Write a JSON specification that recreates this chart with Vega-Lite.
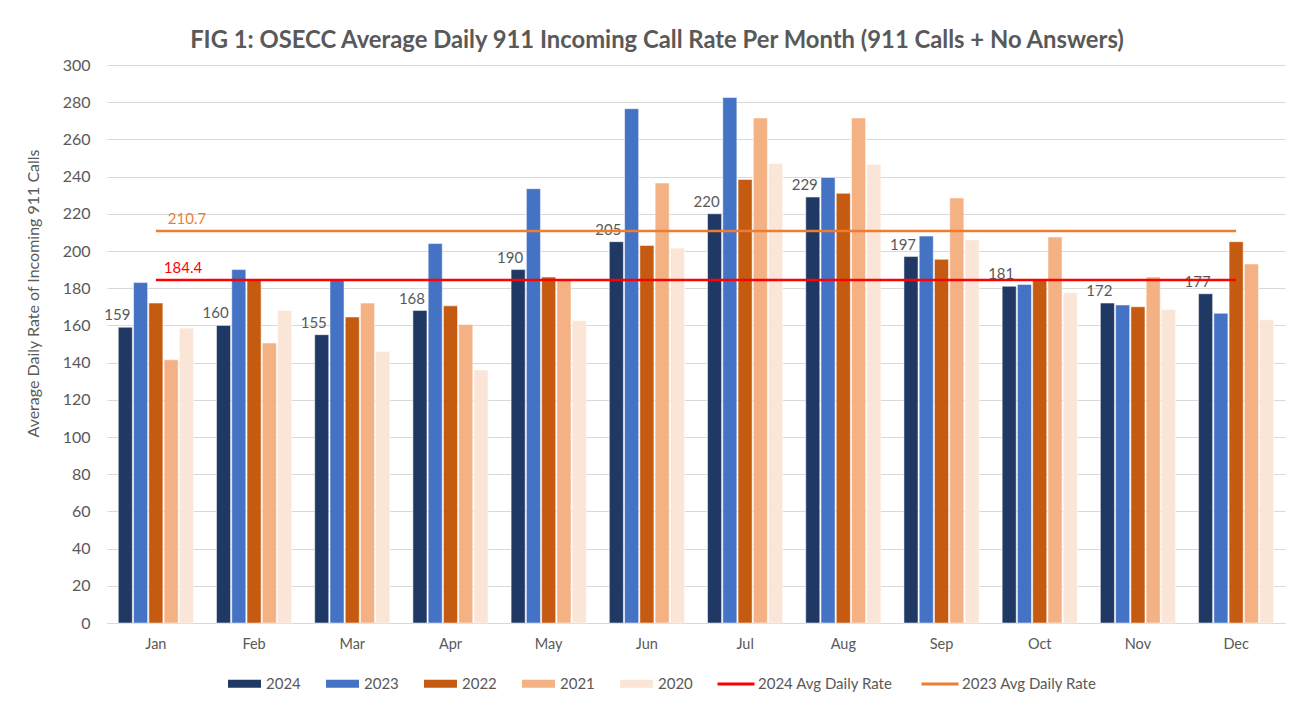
{
  "$schema": "https://vega.github.io/schema/vega-lite/v6.json",
  "width": 1178,
  "height": 558,
  "autosize": {"type": "none"},
  "padding": {"left": 107, "top": 65, "right": 22, "bottom": 88},
  "background": "white",
  "title": {
    "text": "FIG 1: OSECC Average Daily 911 Incoming Call Rate Per Month (911 Calls + No Answers)",
    "font": "Lato",
    "fontSize": 23.8,
    "fontWeight": "bold",
    "color": "#595959",
    "anchor": "middle",
    "dx": -39,
    "offset": 4
  },
  "datasets": {
    "bars": [
      {"month": "Jan", "series": "2024", "value": 159}, {"month": "Jan", "series": "2023", "value": 183}, {"month": "Jan", "series": "2022", "value": 172}, {"month": "Jan", "series": "2021", "value": 141.5}, {"month": "Jan", "series": "2020", "value": 158.5},
      {"month": "Feb", "series": "2024", "value": 160}, {"month": "Feb", "series": "2023", "value": 190}, {"month": "Feb", "series": "2022", "value": 185}, {"month": "Feb", "series": "2021", "value": 150.5}, {"month": "Feb", "series": "2020", "value": 168},
      {"month": "Mar", "series": "2024", "value": 155}, {"month": "Mar", "series": "2023", "value": 185}, {"month": "Mar", "series": "2022", "value": 164.5}, {"month": "Mar", "series": "2021", "value": 172}, {"month": "Mar", "series": "2020", "value": 146},
      {"month": "Apr", "series": "2024", "value": 168}, {"month": "Apr", "series": "2023", "value": 204}, {"month": "Apr", "series": "2022", "value": 170.5}, {"month": "Apr", "series": "2021", "value": 160.5}, {"month": "Apr", "series": "2020", "value": 136},
      {"month": "May", "series": "2024", "value": 190}, {"month": "May", "series": "2023", "value": 233.5}, {"month": "May", "series": "2022", "value": 186}, {"month": "May", "series": "2021", "value": 184.5}, {"month": "May", "series": "2020", "value": 162.5},
      {"month": "Jun", "series": "2024", "value": 205}, {"month": "Jun", "series": "2023", "value": 276.5}, {"month": "Jun", "series": "2022", "value": 203}, {"month": "Jun", "series": "2021", "value": 236.5}, {"month": "Jun", "series": "2020", "value": 201.5},
      {"month": "Jul", "series": "2024", "value": 220}, {"month": "Jul", "series": "2023", "value": 282.5}, {"month": "Jul", "series": "2022", "value": 238.5}, {"month": "Jul", "series": "2021", "value": 271.5}, {"month": "Jul", "series": "2020", "value": 247},
      {"month": "Aug", "series": "2024", "value": 229}, {"month": "Aug", "series": "2023", "value": 239.5}, {"month": "Aug", "series": "2022", "value": 231}, {"month": "Aug", "series": "2021", "value": 271.5}, {"month": "Aug", "series": "2020", "value": 246.5},
      {"month": "Sep", "series": "2024", "value": 197}, {"month": "Sep", "series": "2023", "value": 208}, {"month": "Sep", "series": "2022", "value": 195.5}, {"month": "Sep", "series": "2021", "value": 228.5}, {"month": "Sep", "series": "2020", "value": 206},
      {"month": "Oct", "series": "2024", "value": 181}, {"month": "Oct", "series": "2023", "value": 182}, {"month": "Oct", "series": "2022", "value": 185}, {"month": "Oct", "series": "2021", "value": 207.5}, {"month": "Oct", "series": "2020", "value": 177.5},
      {"month": "Nov", "series": "2024", "value": 172}, {"month": "Nov", "series": "2023", "value": 171}, {"month": "Nov", "series": "2022", "value": 170}, {"month": "Nov", "series": "2021", "value": 186}, {"month": "Nov", "series": "2020", "value": 168.5},
      {"month": "Dec", "series": "2024", "value": 177}, {"month": "Dec", "series": "2023", "value": 166.5}, {"month": "Dec", "series": "2022", "value": 205}, {"month": "Dec", "series": "2021", "value": 193}, {"month": "Dec", "series": "2020", "value": 163}
    ],
    "avg": [
      {"month": "Jan", "series": "2024 Avg Daily Rate", "value": 184.4},
      {"month": "Dec", "series": "2024 Avg Daily Rate", "value": 184.4},
      {"month": "Jan", "series": "2023 Avg Daily Rate", "value": 210.7},
      {"month": "Dec", "series": "2023 Avg Daily Rate", "value": 210.7}
    ]
  },
  "encoding": {
    "x": {
      "field": "month",
      "type": "nominal",
      "sort": ["Jan", "Feb", "Mar", "Apr", "May", "Jun", "Jul", "Aug", "Sep", "Oct", "Nov", "Dec"],
      "scale": {"paddingInner": 0.235, "paddingOuter": 0.115},
      "axis": {
        "title": null,
        "labelAngle": 0,
        "labelFont": "Lato",
        "labelFontSize": 14.5,
        "labelColor": "#595959",
        "labelPadding": 14,
        "ticks": false,
        "domainColor": "#D9D9D9",
        "grid": false
      }
    },
    "y": {
      "field": "value",
      "type": "quantitative",
      "scale": {"domain": [0, 300], "nice": false},
      "axis": {
        "title": "Average Daily Rate of Incoming 911 Calls",
        "titleFont": "Lato",
        "titleFontSize": 16,
        "titleFontWeight": "normal",
        "titleColor": "#595959",
        "titlePadding": 21,
        "titleY": 228,
        "values": [0, 20, 40, 60, 80, 100, 120, 140, 160, 180, 200, 220, 240, 260, 280, 300],
        "labelFont": "Lato",
        "labelFontSize": 16,
        "labelColor": "#595959",
        "labelPadding": 17,
        "ticks": false,
        "domain": false,
        "gridColor": "#D9D9D9",
        "gridWidth": 1
      }
    }
  },
  "layer": [
    {
      "data": {"name": "bars"},
      "mark": {"type": "bar", "stroke": "white", "strokeWidth": 0.5},
      "encoding": {
        "xOffset": {"field": "series", "type": "nominal", "sort": ["2024", "2023", "2022", "2021", "2020"], "scale": {"paddingInner": 0.08}},
        "color": {
          "field": "series",
          "type": "nominal",
          "scale": {
            "domain": ["2024", "2023", "2022", "2021", "2020"],
            "range": ["#203864", "#4472C4", "#C55A11", "#F4B183", "#FBE5D6"]
          },
          "legend": {
            "title": null,
            "orient": "none",
            "legendX": 121,
            "legendY": 602,
            "direction": "horizontal",
            "labelFont": "Lato",
            "labelFontSize": 15,
            "labelColor": "#595959",
            "labelOffset": 5,
            "columnPadding": 25,
            "symbolSize": 1089,
            "symbolStrokeWidth": 0,
            "symbolType": "M-1,-0.24H1V0.24H-1Z"
          }
        }
      }
    },
    {
      "data": {"name": "bars"},
      "transform": [{"filter": "datum.series === '2024'"}],
      "mark": {"type": "text", "font": "Lato", "fontSize": 15, "color": "#595959", "baseline": "bottom", "align": "center", "dx": -8, "dy": -4},
      "encoding": {
        "xOffset": {"field": "series", "type": "nominal", "sort": ["2024", "2023", "2022", "2021", "2020"], "scale": {"paddingInner": 0.08}},
        "text": {"field": "value", "type": "quantitative"}
      }
    },
    {
      "data": {"name": "avg"},
      "mark": {"type": "line", "strokeWidth": 2.5},
      "encoding": {
        "stroke": {
          "field": "series",
          "type": "nominal",
          "scale": {"domain": ["2024 Avg Daily Rate", "2023 Avg Daily Rate"], "range": ["#FF0000", "#ED7D31"]},
          "legend": {
            "title": null,
            "orient": "none",
            "legendX": 609,
            "legendY": 599,
            "direction": "horizontal",
            "labelFont": "Lato",
            "labelFontSize": 15,
            "labelColor": "#595959",
            "labelOffset": 2,
            "columnPadding": 22,
            "symbolType": "stroke",
            "symbolSize": 1369,
            "symbolStrokeWidth": 3
          }
        }
      }
    },
    {
      "data": {"name": "avg"},
      "transform": [{"filter": "datum.month === 'Jan' && datum.series === '2024 Avg Daily Rate'"}],
      "mark": {"type": "text", "font": "Lato", "fontSize": 15, "color": "#FF0000", "align": "left", "baseline": "bottom", "dx": 8, "dy": -4},
      "encoding": {"text": {"field": "value", "type": "quantitative", "format": ".1f"}}
    },
    {
      "data": {"name": "avg"},
      "transform": [{"filter": "datum.month === 'Jan' && datum.series === '2023 Avg Daily Rate'"}],
      "mark": {"type": "text", "font": "Lato", "fontSize": 15, "color": "#ED7D31", "align": "left", "baseline": "bottom", "dx": 12, "dy": -4},
      "encoding": {"text": {"field": "value", "type": "quantitative", "format": ".1f"}}
    }
  ],
  "resolve": {"legend": {"color": "independent", "stroke": "independent"}},
  "config": {"view": {"stroke": null}}
}
